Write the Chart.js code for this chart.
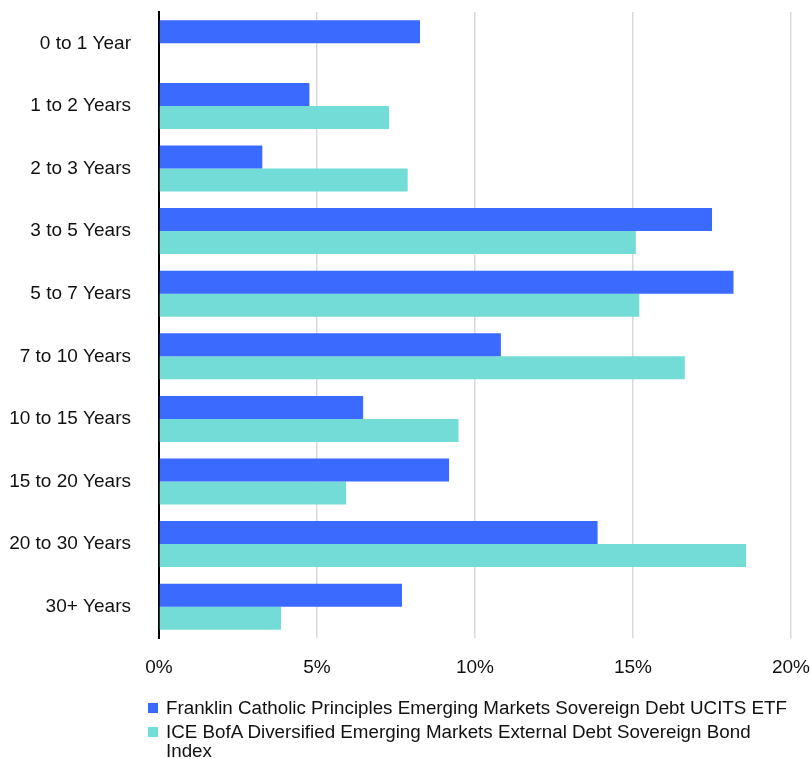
<!DOCTYPE html>
<html>
<head>
<meta charset="utf-8">
<script src="https://cdn.jsdelivr.net/npm/chart.js@4"></script>
<style>
  body { margin: 0; background: #fff; }
  #wrap { position: relative; width: 811px; height: 759px; }
  #chartBox { position: absolute; left: 0; top: 0; width: 811px; height: 700px; }
  #legend { position: absolute; left: 148px; top: 698px; width: 660px;
            font-family: 'Liberation Sans', Arial, sans-serif;
            font-size: 18.8px; color: #111; }
  .item { position: relative; padding-left: 18px; line-height: 19px; margin-bottom: 5px; }
  .item span.box { position: absolute; left: 0; top: 5px; width: 10px; height: 10px; }
</style>
</head>
<body>
<div id="wrap">
  <div id="chartBox"><canvas id="maturityChart"></canvas></div>
  <div id="legend"></div>
</div>
<script>
const categories = ['0 to 1 Year', '1 to 2 Years', '2 to 3 Years', '3 to 5 Years', '5 to 7 Years',
    '7 to 10 Years', '10 to 15 Years', '15 to 20 Years', '20 to 30 Years', '30+ Years'];
const fundName = 'Franklin Catholic Principles Emerging Markets Sovereign Debt UCITS ETF';
const indexName = 'ICE BofA Diversified Emerging Markets External Debt Sovereign Bond Index';
const fundValues = [8.26, 4.76, 3.27, 17.50, 18.18, 10.82, 6.46, 9.18, 13.88, 7.69];
const indexValues = [0, 7.28, 7.87, 15.09, 15.20, 16.64, 9.48, 5.92, 18.58, 3.86];
const xTicks = [0, 5, 10, 15, 20];

const fundColor = '#3a6aff';
const indexColor = '#73dcd6';
const fontFamily = "'Liberation Sans', Arial, sans-serif";

document.addEventListener('DOMContentLoaded', () => {
    const ctx = document.getElementById('maturityChart').getContext('2d');
    new Chart(ctx, {
        type: 'bar',
        data: {
            labels: categories,
            datasets: [{
                label: fundName,
                data: fundValues,
                backgroundColor: fundColor,
                categoryPercentage: 0.735,
                barPercentage: 1.0
            }, {
                label: indexName,
                data: indexValues,
                backgroundColor: indexColor,
                categoryPercentage: 0.735,
                barPercentage: 1.0
            }]
        },
        options: {
            indexAxis: 'y',
            responsive: true,
            maintainAspectRatio: false,
            animation: false,
            layout: { padding: { top: 12, right: 20, left: 0, bottom: 0 } },
            plugins: {
                legend: { display: false },
                tooltip: { enabled: false }
            },
            scales: {
                x: {
                    min: 0,
                    max: 20,
                    afterBuildTicks: axis => { axis.ticks = xTicks.map(v => ({ value: v })); },
                    afterFit: axis => {
                        axis.height = 62;
                        axis.paddingLeft = 0;
                        axis.paddingRight = 0;
                    },
                    grid: { color: '#d9d9d9', lineWidth: 1.5, drawTicks: false },
                    border: { display: false },
                    ticks: {
                        padding: 18,
                        color: '#111',
                        font: { family: fontFamily, size: 19 },
                        callback: v => v + '%'
                    }
                },
                y: {
                    afterFit: axis => {
                        axis.width = 159;
                        axis.paddingTop = 0;
                        axis.paddingBottom = 0;
                    },
                    grid: { display: false, drawTicks: false },
                    border: { display: true, color: '#000', width: 2 },
                    ticks: {
                        padding: 28,
                        color: '#111',
                        font: { family: fontFamily, size: 19 }
                    }
                }
            }
        }
    });

    const legend = document.getElementById('legend');
    [[fundName, fundColor, 'nowrap', 660], [indexName, indexColor, 'normal', 600]].forEach(([name, color, ws, w]) => {
        const item = document.createElement('div');
        item.className = 'item';
        item.style.whiteSpace = ws;
        item.style.width = w + 'px';
        const box = document.createElement('span');
        box.className = 'box';
        box.style.background = color;
        item.appendChild(box);
        item.appendChild(document.createTextNode(name));
        legend.appendChild(item);
    });
});
</script>
</body>
</html>
